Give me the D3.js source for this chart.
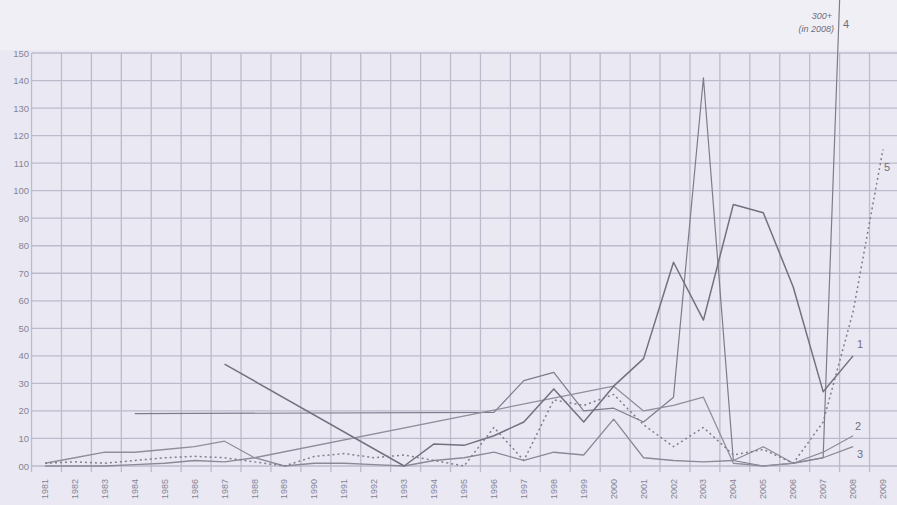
<!DOCTYPE html>
<html><head><meta charset="utf-8">
<script src="https://cdn.jsdelivr.net/npm/d3@7/dist/d3.min.js"></script>
<style>html,body{margin:0;padding:0;background:#ecebf5;}svg{display:block;}</style>
</head><body><svg id="c" width="897" height="505"></svg>
<script>
const tickYears = [1981,1982,1983,1984,1985,1986,1987,1988,1989,1990,1991,1992,1993,1994,1995,1996,1997,1998,1999,2000,2001,2002,2003,2004,2005,2006,2007,2008,2009];
const yTicks = [0,10,20,30,40,50,60,70,80,90,100,110,120,130,140,150];
const yTickLabels = ["00","10","20","30","40","50","60","70","80","90","100","110","120","130","140","150"];

// series 1 (solid, dark)
const s1Years  = [1987,1993,1994,1995,1996,1997,1998,1999,2000,2001,2002,2003,2004,2005,2006,2007,2008];
const s1Values = [37,0,8,7.5,11,16,28,16,29,39,74,53,95,92,65,27,40];
// series 2
const s2Years  = [1981,1982,1983,1984,1985,1986,1987,1988,2000,2001,2002,2003,2004,2005,2006,2007,2008];
const s2Values = [1,3,5,5,6,7,9,3,29,20,22,25,1,0,1,5,11];
// series 3
const s3Years  = [1981,1982,1983,1984,1985,1986,1987,1988,1989,1990,1991,1992,1993,1994,1995,1996,1997,1998,1999,2000,2001,2002,2003,2004,2005,2006,2007,2008];
const s3Values = [0,0,0,0.5,1,2,1.5,3,0,1,1,0.5,0,2,3,5,2,5,4,17,3,2,1.5,2,7,1,3,7];
// series 4
const s4Years  = [1984,1996,1997,1998,1999,2000,2001,2002,2003,2004,2005,2006,2007,2008];
const s4Values = [19,19.5,31,34,20,21,16,25,141,2,0,1,3,305];
// series 5 (dotted)
const s5Years  = [1981,1982,1983,1984,1985,1986,1987,1988,1989,1990,1991,1992,1993,1994,1995,1996,1997,1998,1999,2000,2001,2002,2003,2004,2005,2006,2007,2008,2009];
const s5Values = [1,1.5,1,2,3,3.5,3,1.5,0,3.5,4.5,3,4,2,0,14,2,24,22,26,15,7,14,4,6,1,16,56,115];

const svg = d3.select("#c");
const W = 897, H = 505;
const x = d3.scaleLinear().domain([1981, 2009]).range([45, 883]);
const y = d3.scaleLinear().domain([0, 150]).range([466, 53]);

svg.append("rect").attr("width", W).attr("height", H).attr("fill", "#eae9f3");
svg.append("rect").attr("width", W).attr("height", 50).attr("fill", "#f0eff6");

const grid = svg.append("g").attr("stroke", "#bcbacb").attr("stroke-width", 1.3);
const vLines = tickYears.concat([2010]);
grid.selectAll("line.v").data(vLines).join("line")
  .attr("x1", d => x(d - 0.45)).attr("x2", d => x(d - 0.45))
  .attr("y1", y(150)).attr("y2", 472);
grid.selectAll("line.h").data(yTicks).join("line")
  .attr("x1", x(1981 - 0.45)).attr("x2", W)
  .attr("y1", d => y(d)).attr("y2", d => y(d));

svg.append("g").selectAll("text").data(yTicks).join("text")
  .attr("x", 29).attr("y", d => y(d) + 3.5)
  .attr("text-anchor", "end")
  .attr("font-family", "Liberation Sans, Arial, sans-serif")
  .attr("font-size", 9.5).attr("fill", "#858493")
  .text((d, i) => yTickLabels[i]);

svg.append("g").selectAll("text").data(tickYears).join("text")
  .attr("transform", d => `translate(${x(d) + 3},489) rotate(-90)`)
  .attr("text-anchor", "middle")
  .attr("font-family", "Liberation Sans, Arial, sans-serif")
  .attr("font-size", 9).attr("fill", "#858493")
  .text(d => d);

const line = d3.line().x(d => x(d[0])).y(d => y(d[1]));
function pts(ys, vs){ return ys.map((d,i)=>[d, vs[i]]); }

const series = [
  {ys:s4Years, vs:s4Values, color:"#7d7c8a", w:1.2, dash:null},
  {ys:s3Years, vs:s3Values, color:"#8a8997", w:1.3, dash:null},
  {ys:s2Years, vs:s2Values, color:"#8f8e9c", w:1.3, dash:null},
  {ys:s1Years, vs:s1Values, color:"#72717f", w:1.5, dash:null},
  {ys:s5Years, vs:s5Values, color:"#7f7e8c", w:1.5, dash:"2,3"}
];
series.forEach(s => {
  svg.append("path").datum(pts(s.ys, s.vs))
    .attr("d", line).attr("fill", "none")
    .attr("stroke", s.color).attr("stroke-width", s.w)
    .attr("stroke-dasharray", s.dash)
    .attr("stroke-linejoin", "round");
});

const lab = svg.append("g").attr("font-family", "Liberation Sans, Arial, sans-serif").attr("fill", "#6f6e7c");
lab.append("text").attr("x", x(2008) + 4).attr("y", y(43)).attr("font-size", 11).text("1");
lab.append("text").attr("x", x(2008) + 2).attr("y", y(13)).attr("font-size", 11).text("2");
lab.append("text").attr("x", x(2008) + 4).attr("y", y(3)).attr("font-size", 11).text("3");
lab.append("text").attr("x", x(2009) + 1).attr("y", y(107)).attr("font-size", 11).text("5");
lab.append("text").attr("x", 843).attr("y", 28).attr("font-size", 11).text("4");
lab.append("text").attr("x", 832).attr("y", 19).attr("font-size", 9).attr("font-style", "italic").attr("text-anchor", "end").text("300+");
lab.append("text").attr("x", 834).attr("y", 32).attr("font-size", 9).attr("font-style", "italic").attr("text-anchor", "end").text("(in 2008)");
</script></body></html>
